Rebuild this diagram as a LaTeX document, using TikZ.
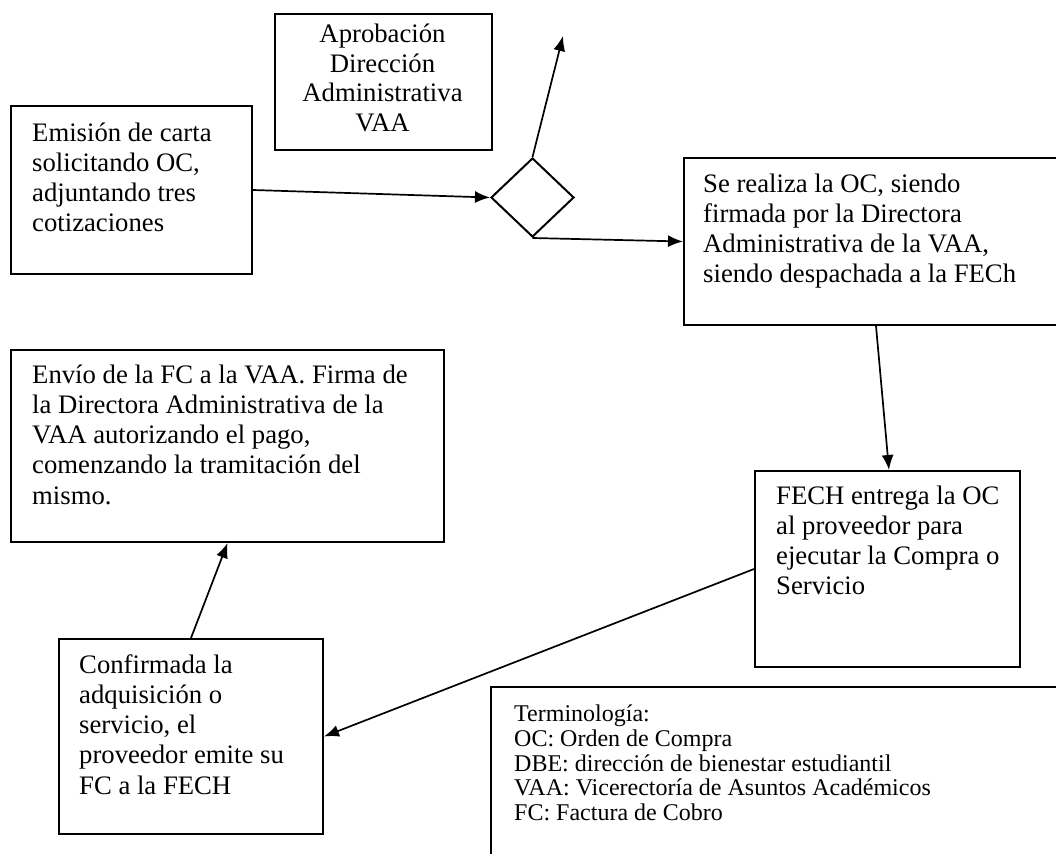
\documentclass[tikz,border=0pt]{standalone}
\usepackage{fontspec}
\setmainfont{Liberation Serif}
\usetikzlibrary{arrows.meta,shapes.geometric}

\tikzset{
  procbox/.style={draw, line width=2pt, rectangle, inner sep=0pt, anchor=north west},
  decision/.style={draw, line width=2pt, diamond, inner sep=0pt},
  boxtext/.style={anchor=north west, inner sep=0pt, align=left,
    font=\fontsize{26.7}{30.2}\selectfont},
  termtext/.style={anchor=north west, inner sep=0pt, align=left,
    font=\fontsize{24}{24.8}\selectfont},
  flow/.style={line width=1.7pt, -{Latex[length=15pt,width=12pt]}}
}

\begin{document}
\begin{tikzpicture}[x=1pt,y=-1pt]
\useasboundingbox (0,0) rectangle (1056,853);
\clip (0,0) rectangle (1056,853);

% process boxes
\node[procbox, minimum width=241pt, minimum height=168pt] (emision) at (10,105) {};
\node[procbox, minimum width=217pt, minimum height=136pt] (aprob) at (274,13) {};
\node[procbox, minimum width=420pt, minimum height=167pt] (realiza) at (683,157) {};
\node[procbox, minimum width=265pt, minimum height=196pt] (fech) at (754,470) {};
\node[procbox, minimum width=433pt, minimum height=192pt] (envio) at (10,349) {};
\node[procbox, minimum width=264pt, minimum height=195pt] (confirm) at (58,638) {};
\node[procbox, minimum width=640pt, minimum height=260pt] (term) at (490,686) {};

% decision
\node[decision, minimum width=83pt, minimum height=79pt] (dec) at (532.5,197.5) {};
\coordinate (up) at (563,36);

% texts
\node[boxtext] (t1) at (32,120) {\strut Emisión de carta\\solicitando OC,\\adjuntando tres\\cotizaciones};
\node[boxtext, anchor=north, align=center, font=\fontsize{26.7}{29.5}\selectfont] (t2) at (382.5,22) {\strut Aprobación\\Dirección\\Administrativa\\VAA};
\node[boxtext] (t3) at (703,171) {\strut Se realiza la OC, siendo\\firmada por la Directora\\Administrativa de la VAA,\\siendo despachada a la FECh};
\node[boxtext] (t4) at (776,483) {\strut FECH entrega la OC\\al proveedor para\\ejecutar la Compra o\\Servicio};
\node[boxtext] (t5) at (32,362) {\strut Envío de la FC a la VAA. Firma de\\la Directora Administrativa de la\\VAA autorizando el pago,\\comenzando la tramitación del\\mismo.};
\node[boxtext] (t6) at (79,652) {\strut Confirmada la\\adquisición o\\servicio, el\\proveedor emite su\\FC a la FECH};
\node[termtext] (t7) at (514,704) {\strut Terminología:\\OC: Orden de Compra\\DBE: dirección de bienestar estudiantil\\VAA: Vicerectoría de Asuntos Académicos\\FC: Factura de Cobro};

% connectors
\draw[flow] (emision.east) -- (dec.west);
\draw[flow] (dec.north) -- (up);
\draw[flow] (dec.south) -- (realiza.west);
\draw[flow] ([xshift=193pt]realiza.south west) -- ([xshift=1.5pt]fech.north);
\draw[flow] (fech.west) -- (confirm.east);
\draw[flow] (confirm.north) -- (envio.south);
\end{tikzpicture}
\end{document}
